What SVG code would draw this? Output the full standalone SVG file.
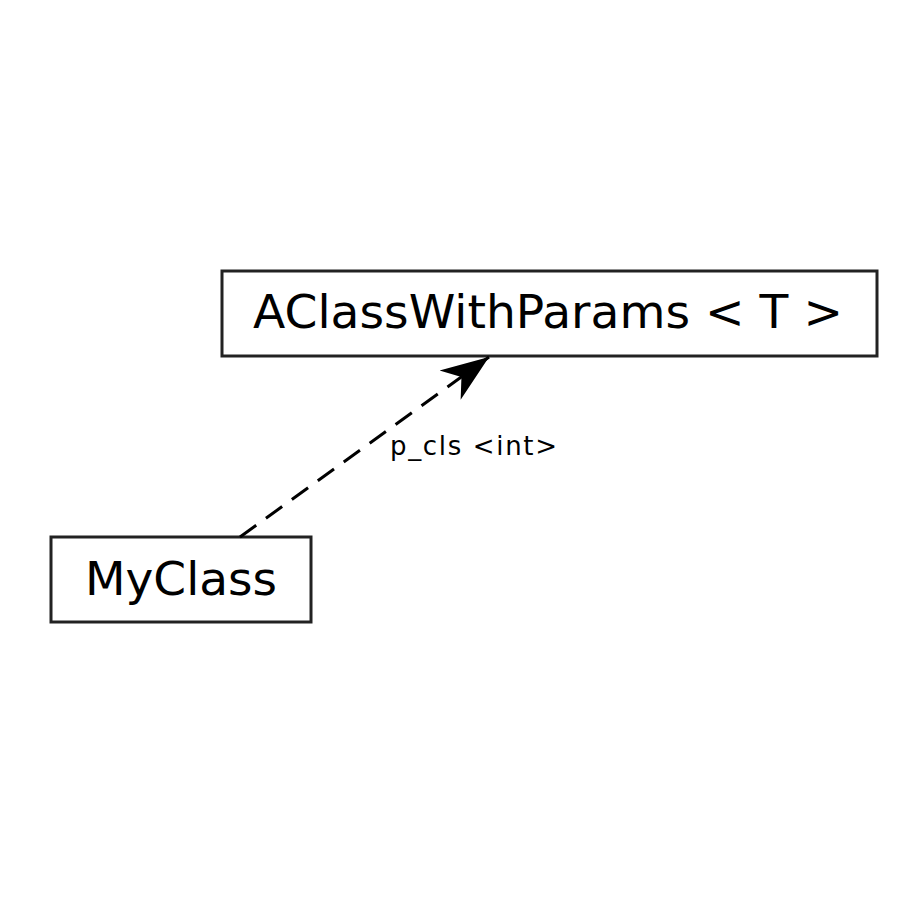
<svg xmlns="http://www.w3.org/2000/svg" width="900" height="900" viewBox="0 0 900 900">
<style>
.box{fill:#fff;stroke:#222;stroke-width:3}
.title{font-family:"DejaVu Sans",sans-serif;font-size:47px;fill:#000;text-anchor:middle}
.lbl{font-family:"DejaVu Sans",sans-serif;font-size:26px;fill:#000}
.edge{fill:none;stroke:#000;stroke-width:3;stroke-dasharray:20 12}
</style>
<defs>
<marker id="vee" viewBox="0 0 50 40" refX="48" refY="20" markerWidth="50" markerHeight="40" markerUnits="userSpaceOnUse" orient="auto">
<path d="M0,2 L48,20 L0,38 L14,20 z" fill="#000"/>
</marker>
</defs>
<rect width="900" height="900" fill="#fff"/>
<g id="node-AClassWithParams">
<rect class="box" x="222" y="271" width="655" height="85"/>
<text class="title" x="548" y="328" textLength="590" lengthAdjust="spacingAndGlyphs">AClassWithParams &lt; T &gt;</text>
</g>
<g id="node-MyClass">
<rect class="box" x="51" y="537" width="260" height="85"/>
<text class="title" x="181" y="595" textLength="192" lengthAdjust="spacingAndGlyphs">MyClass</text>
</g>
<g id="connectors">
<path class="edge" d="M240,537 L489,357" marker-end="url(#vee)"/>
<text class="lbl" x="390" y="455" textLength="167" lengthAdjust="spacing">p_cls &lt;int&gt;</text>
</g>
</svg>
